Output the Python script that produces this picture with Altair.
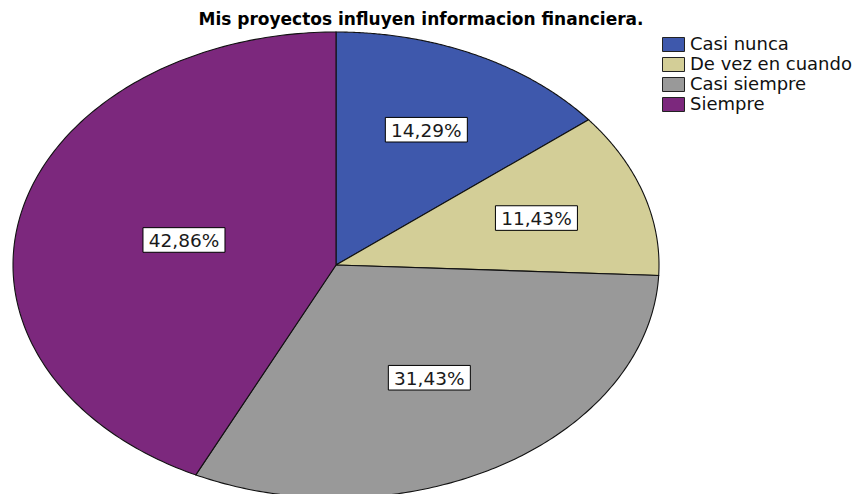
import altair as alt
import pandas as pd

# ---- data ----
categories = ["Casi nunca", "De vez en cuando", "Casi siempre", "Siempre"]
percents = [14.29, 11.43, 31.43, 42.86]
colors = ["#3E58AC", "#D3CE97", "#999999", "#7C287D"]
title_text = "Mis proyectos influyen informacion financiera."

df = pd.DataFrame({"cat": categories, "pct": percents, "idx": list(range(len(categories)))})

W, H = 848, 486
# ellipse centre (328, 257) in chart px, radii 323 x 233
xdom = [-328 / 323, (W - 328) / 323]
ydom = [(257 - H) / 233, 257 / 233]

xs = alt.Scale(domain=xdom, nice=False, zero=False)
ys = alt.Scale(domain=ydom, nice=False, zero=False)
cscale = alt.Scale(domain=categories, range=colors)

base = alt.Chart(df).transform_window(
    cum="sum(pct)", sort=[alt.SortField("idx")], frame=[None, 0]
).transform_joinaggregate(
    total="sum(pct)"
).transform_calculate(
    a0="2*PI*(datum.cum - datum.pct)/datum.total",
    a1="2*PI*datum.cum/datum.total",
)

N = 160
wedges = base.transform_calculate(
    steps=f"sequence(0, {N + 2})"
).transform_flatten(["steps"]).transform_calculate(
    ang=f"datum.a0 + (datum.a1 - datum.a0) * (datum.steps - 1) / {N}",
).transform_calculate(
    u="datum.steps == 0 ? 0 : sin(datum.ang)",
    v="datum.steps == 0 ? 0 : cos(datum.ang)",
).mark_line(interpolate="linear-closed", stroke="#111111", strokeWidth=1.1, clip=False).encode(
    x=alt.X("u:Q", scale=xs, axis=None),
    y=alt.Y("v:Q", scale=ys, axis=None),
    fill=alt.Fill(
        "cat:N",
        scale=cscale,
        legend=alt.Legend(
            title=None,
            orient="none",
            legendX=655,
            legendY=26,
            symbolType="M-1.1,-0.7L1.1,-0.7L1.1,0.7L-1.1,0.7Z",
            symbolSize=400,
            symbolStrokeColor="#222222",
            symbolStrokeWidth=1,
            symbolOpacity=1,
            labelFont="DejaVu Sans",
            labelFontSize=18,
            labelColor="#111111",
            labelOffset=6,
            rowPadding=0,
            padding=0,
            labelLimit=300,
        ),
    ),
    order=alt.Order("steps:Q"),
    detail="cat:N",
)

labels_base = base.transform_calculate(
    mid="(datum.a0 + datum.a1)/2",
    half="(datum.a1 - datum.a0)/2",
).transform_calculate(
    d="2*sin(datum.half)/(3*datum.half)",
).transform_calculate(
    lu="datum.d*sin(datum.mid)",
    lv="datum.d*cos(datum.mid)",
    lab="replace(format(datum.pct, '.2f'), '.', ',') + '%'",
)

boxes = labels_base.mark_point(
    shape="M-1,-0.3L1,-0.3L1,0.3L-1,0.3Z",
    size=82 * 82,
    filled=True,
    fill="white",
    stroke="black",
    strokeWidth=1,
    opacity=1,
).encode(
    x=alt.X("lu:Q", scale=xs, axis=None),
    y=alt.Y("lv:Q", scale=ys, axis=None),
)

texts = labels_base.mark_text(
    font="DejaVu Sans", fontSize=18.5, color="#1a1a1a", baseline="middle", align="center", dy=1
).encode(
    x=alt.X("lu:Q", scale=xs, axis=None),
    y=alt.Y("lv:Q", scale=ys, axis=None),
    text="lab:N",
)

title = alt.Chart(pd.DataFrame({"t": [title_text]})).mark_text(
    font="DejaVu Sans", fontSize=17, fontWeight="bold", color="black",
    align="center", baseline="alphabetic",
).encode(
    x=alt.value(413),
    y=alt.value(17),
    text="t:N",
)

chart = alt.layer(wedges, boxes, texts, title).properties(
    width=W, height=H, padding=0, autosize=alt.AutoSizeParams(type="none"),
    view=alt.ViewBackground(strokeWidth=0, stroke="white", fill="white"),
).configure_view(strokeWidth=0, stroke="white").configure(background="white")

chart.save("out.html", embed_options={"renderer": "svg", "actions": False})
